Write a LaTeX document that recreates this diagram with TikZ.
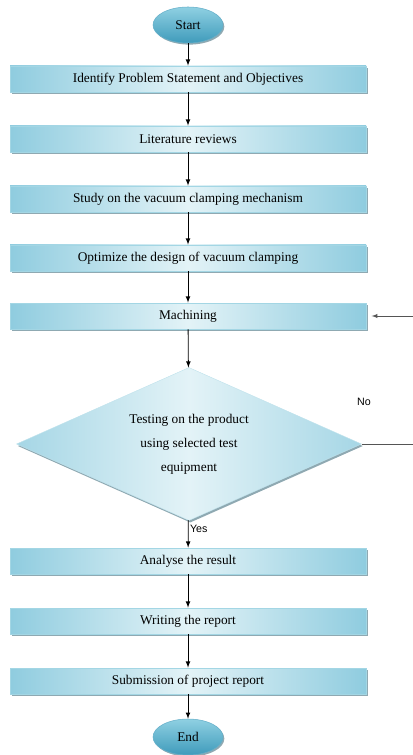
\documentclass[tikz,border=0pt]{standalone}
\usepackage{fontspec}
\setmainfont{Liberation Serif}
\newfontfamily\labelfont{Liberation Sans}
\usetikzlibrary{shapes.geometric,shadows}
\definecolor{boxedge}{HTML}{A3D6E4}
\definecolor{boxblue}{HTML}{8FCCDF}
\definecolor{boxlight}{HTML}{E3F3F7}
\definecolor{shadowcol}{HTML}{8FA9B2}
\definecolor{termtop}{HTML}{8FD0E2}
\definecolor{termbot}{HTML}{3F9BBB}
\definecolor{loopgrey}{HTML}{555555}
\tikzset{
  process/.style={rectangle, draw=boxedge, line width=0.6pt,
    left color=boxblue, right color=boxblue, middle color=boxlight,
    minimum width=267pt, minimum height=19.5pt, inner sep=0pt,
    drop shadow={shadow xshift=1.2pt, shadow yshift=-1.5pt, fill=shadowcol, opacity=1}},
  terminal/.style={ellipse, draw=termbot!80, line width=0.4pt,
    top color=termtop, bottom color=termbot,
    minimum width=52.5pt, minimum height=27pt, inner sep=0pt,
    drop shadow={shadow xshift=1pt, shadow yshift=-1.2pt, fill=shadowcol, opacity=1}},
  decision/.style={diamond, draw=boxedge!70, line width=0.3pt,
    left color=boxblue!80, right color=boxblue!80, middle color=boxlight,
    aspect=2.25, minimum width=258.75pt, minimum height=114.75pt,
    inner sep=0pt, align=center,
    drop shadow={shadow xshift=1pt, shadow yshift=-1.5pt, fill=shadowcol, opacity=1}},
  flow/.style={-latex, line width=0.6pt},
  loopline/.style={draw=loopgrey, line width=0.5pt}
}
\begin{document}
\begin{tikzpicture}[x=0.75pt, y=-0.75pt]
  \useasboundingbox (0,0) rectangle (413,755);
  \draw
    (188,25) node[terminal] (start){Start}
    (188,79) node[process] (idf){Identify Problem Statement and Objectives}
    (188,139) node[process] (lit){Literature reviews}
    (188,199) node[process] (study){Study on the vacuum clamping mechanism}
    (188,258) node[process] (opt){Optimize the design of vacuum clamping}
    (188,316) node[process] (mach){Machining}
    (189,444) node[decision] (test){Testing on the product\\[6pt]using selected test\\[6pt]equipment}
    (188,561) node[process] (ana){Analyse the result}
    (188,621) node[process] (wri){Writing the report}
    (188,681) node[process] (sub){Submission of project report}
    (188,737) node[terminal] (endn){End};
  \node[font=\labelfont\footnotesize] (nolbl) at (364,402) {No};
  \coordinate (loopin) at (413,444);
  \coordinate (loopout) at (413,316);
  \begin{scope}[flow]
    \draw (start) to (idf);
    \draw (idf) to (lit);
    \draw (lit) to (study);
    \draw (study) to (opt);
    \draw (opt) to (mach);
    \draw (mach) to (test);
    \draw (test) to node[pos=0.3, right, font=\labelfont\footnotesize, inner sep=1pt] (yeslbl){Yes} (ana);
    \draw (ana) to (wri);
    \draw (wri) to (sub);
    \draw (sub) to (endn);
  \end{scope}
  \draw[loopline] (test.east) -- (loopin);
  \draw[loopline, -latex, shorten >=4pt] (loopout) -- (mach.east);
\end{tikzpicture}
\end{document}
